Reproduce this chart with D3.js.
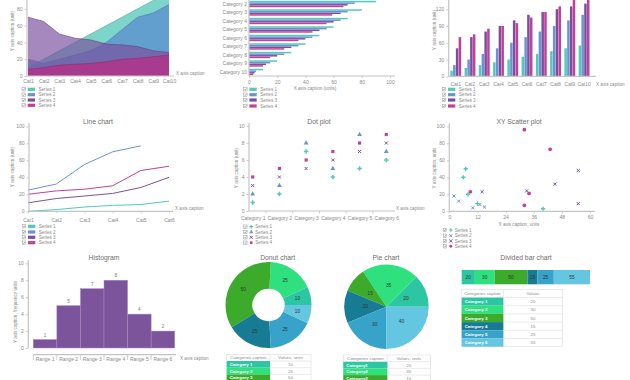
<!DOCTYPE html>
<html>
<head>
<meta charset="utf-8">
<script src="https://cdn.jsdelivr.net/npm/d3@7"></script>
<style>
body { margin: 0; background: #fff; }
svg { display: block; font-family: "Liberation Sans", Arial, sans-serif; }
</style>
</head>
<body>
<svg id="chart" width="630" height="380"></svg>
<script>
// ---- data ----
const seriesNames = ["Series 1", "Series 2", "Series 3", "Series 4"];
const cats10 = ["Cat1", "Cat2", "Cat3", "Cat4", "Cat5", "Cat6", "Cat7", "Cat8", "Cat9", "Cat10"];
const cats6 = ["Cat1", "Cat2", "Cat3", "Cat4", "Cat5", "Cat6"];

// area chart
const areaS1 = [10, 20, 30, 40, 50, 60, 70, 80, 90, 100];
const areaS2 = [20, 15, 20, 25, 30, 40, 55, 70, 75, 85];
const areaS3 = [70, 65, 50, 45, 43, 38, 37, 35, 30, 28];
const areaS4 = [8, 10, 13, 14, 15, 17, 20, 21, 23, 25];

// horizontal bars
const hbarCats = ["Category 1", "Category 2", "Category 3", "Category 4", "Category 5",
  "Category 6", "Category 7", "Category 8", "Category 9", "Category 10"];
const hbarS1 = [100, 90, 80, 70, 60, 50, 40, 30, 20, 10];
const hbarS2 = [85, 75, 70, 65, 55, 45, 35, 25, 15, 5];
const hbarS3 = [80, 70, 65, 60, 50, 40, 30, 20, 12, 4];
const hbarS4 = [75, 67, 59, 55, 45, 35, 25, 15, 10, 3];

// vertical bars
const vbarS1 = [10, 15, 20, 25, 30, 35, 40, 45, 50, 55];
const vbarS2 = [20, 30, 40, 50, 60, 70, 80, 90, 100, 110];
const vbarS3 = [50, 70, 80, 90, 100, 110, 115, 120, 125, 130];
const vbarS4 = [70, 75, 85, 90, 95, 105, 115, 125, 140, 145];

// line chart
const lineS1 = [0, 2, 5, 7, 8, 12];
const lineS2 = [25, 32, 55, 70, 77];
const lineS3 = [10, 15, 18, 21, 28, 40];
const lineS4 = [20, 24, 26, 30, 48, 53];

// dot plot
const dotCats = ["Category 1", "Category 2", "Category 3", "Category 4", "Category 5", "Category 6"];
const dotS1 = [1, 2, 7, 4, 5, 6];
const dotS2 = [2, 3, 8, 5, 9, 7];
const dotS3 = [3, 4, 5, 6, 7, 8];
const dotS4 = [4, 5, 6, 7, 8, 9];

// xy scatter  [x, y]
const scatS1 = [[6, 40], [7, 50], [8, 20], [12, 9], [40, 3]];
const scatS2 = [[2, 18], [4, 12], [10, 4], [13, 8], [15, 5]];
const scatS3 = [[14, 23], [33, 24], [45, 32], [55, 48], [55, 9]];
const scatS4 = [[9, 23], [32, 96], [34, 21], [32, 7], [43, 73]];

// histogram
const histRanges = ["Range 1", "Range 2", "Range 3", "Range 4", "Range 5", "Range 6"];
const histValues = [1, 5, 7, 8, 4, 2];

// donut, pie, divided bar
const donutCats = ["Category 1", "Category 2", "Category 3", "Category 4", "Category 5", "Category 6"];
const donutValues = [10, 25, 50, 25, 25, 10];
const pieCats = ["Category1", "Category2", "Category3", "Category4", "Category5", "Category6"];
const pieValues = [20, 35, 15, 20, 30, 40];
const divCats = ["Category 1", "Category 2", "Category 3", "Category 4", "Category 5", "Category 6"];
const divValues = [20, 30, 50, 15, 25, 55];

const seriesColors = ["#52c9bb", "#6b93d3", "#7b4f9e", "#c2409a"];
const catColors = ["#2cc6a2", "#2fe07f", "#3cab2b", "#177b94", "#38a3c9", "#64c6e1"];

// ---- helpers ----
const svg = d3.select("#chart");
const gray = "#c4c4c4";
const textCol = "#8a8a8a";

function styleAxis(sel) {
  sel.select(".domain").remove();
  sel.selectAll("line").attr("stroke", gray).attr("stroke-width", 0.8);
  sel.selectAll("text").attr("fill", textCol).attr("font-size", 5);
}

function yAxis(scale, x, ticks, top) {
  svg.append("g").attr("transform", `translate(${x},0)`)
    .call(d3.axisLeft(scale).tickValues(ticks).tickSize(2.5).tickPadding(2).tickSizeOuter(0))
    .call(styleAxis);
  const r = scale.range();
  svg.append("line").attr("x1", x).attr("x2", x)
    .attr("y1", top !== undefined ? top : Math.min(r[0], r[1]) - 3).attr("y2", Math.max(r[0], r[1]))
    .attr("stroke", gray).attr("stroke-width", 1.2);
}

function axisLine(x1, x2, y) {
  svg.append("line").attr("x1", x1).attr("x2", x2).attr("y1", y).attr("y2", y)
    .attr("stroke", gray).attr("stroke-width", 1.2);
}

function text(x, y, t, size, anchor, fill) {
  return svg.append("text").attr("x", x).attr("y", y).attr("dy", "0.35em")
    .attr("font-size", size || 5).attr("text-anchor", anchor || "start")
    .attr("fill", fill || textCol).text(t);
}

function title(x, y, t) {
  text(x, y, t, 6.8, "middle", "#6e6e6e");
}

function rotCaption(x, y, t) {
  svg.append("text").attr("transform", `translate(${x},${y}) rotate(-90)`)
    .attr("dy", "0.35em").attr("text-anchor", "middle")
    .attr("font-size", 4.6).attr("fill", textCol).text(t);
}

function checkbox(x, y) {
  svg.append("rect").attr("x", x).attr("y", y - 1.7).attr("width", 3.4).attr("height", 3.4)
    .attr("fill", "#fff").attr("stroke", "#999").attr("stroke-width", 0.5);
  svg.append("path").attr("d", `M${x + 0.7},${y} L${x + 1.5},${y + 0.9} L${x + 2.8},${y - 1}`)
    .attr("fill", "none").attr("stroke", "#666").attr("stroke-width", 0.5);
}

const symbolTypes = [d3.symbolCross, d3.symbolTriangle, d3.symbolX, d3.symbolSquare];

function drawSymbol(type, x, y, color, size) {
  const stroked = type === d3.symbolX;
  svg.append("path")
    .attr("d", d3.symbol(type, size)())
    .attr("transform", `translate(${x},${y})`)
    .attr("fill", stroked ? "none" : color)
    .attr("stroke", stroked ? color : "none")
    .attr("stroke-width", stroked ? 1 : 0);
}

function legend(x, ys, mode, symbols) {
  seriesNames.forEach((name, i) => {
    const y = ys[i];
    checkbox(x, y);
    if (mode === "swatch") {
      svg.append("rect").attr("x", x + 5.7).attr("y", y - 1.6).attr("width", 7.3).attr("height", 3.2)
        .attr("fill", seriesColors[i]);
      text(x + 16.5, y, name, 4.6);
    } else {
      drawSymbol(symbols[i], x + 7.5, y, seriesColors[i], 7);
      text(x + 11.5, y, name, 4.6);
    }
  });
}

function table(x, y, w1, w2, rowH, header, cats, values, nRows) {
  const g = svg.append("g");
  g.append("rect").attr("x", x).attr("y", y).attr("width", w1 + w2).attr("height", rowH * (nRows + 1))
    .attr("fill", "#fff").attr("stroke", "#ddd").attr("stroke-width", 0.6);
  g.append("line").attr("x1", x + w1).attr("x2", x + w1).attr("y1", y).attr("y2", y + rowH * (nRows + 1))
    .attr("stroke", "#ddd").attr("stroke-width", 0.6);
  text(x + w1 / 2, y + rowH / 2, header[0], 4.4, "middle");
  text(x + w1 + w2 / 2, y + rowH / 2, header[1], 4.4, "middle");
  for (let i = 0; i < nRows; i++) {
    const ry = y + rowH * (i + 1);
    g.append("rect").attr("x", x).attr("y", ry).attr("width", w1).attr("height", rowH)
      .attr("fill", catColors[i]);
    g.append("line").attr("x1", x + w1).attr("x2", x + w1 + w2).attr("y1", ry).attr("y2", ry)
      .attr("stroke", "#ddd").attr("stroke-width", 0.6);
    text(x + 3, ry + rowH / 2, cats[i], 4.4, "start", "#fff").attr("font-weight", "bold");
    text(x + w1 + w2 / 2, ry + rowH / 2, values[i], 4.4, "middle");
  }
}

// ---- 1. area chart ----
{
  const x = d3.scalePoint(cats10, [28, 169]);
  const y = d3.scaleLinear([0, 100], [76, -8]);
  const series = [areaS1, areaS2, areaS3, areaS4];
  const fills = ["#5ccbbd", "#5a8ccf", "#7b4f9e", "#b0348a"];
  const opac = [0.8, 0.75, 0.68, 0.88];
  const area = d3.area().x((d, i) => x(cats10[i])).y0(y(0)).y1(d => y(d));
  const line = d3.line().x((d, i) => x(cats10[i])).y(d => y(d));
  series.forEach((s, i) => {
    svg.append("path").attr("d", area(s)).attr("fill", fills[i]).attr("fill-opacity", opac[i]);
    svg.append("path").attr("d", line(s)).attr("fill", "none")
      .attr("stroke", d3.color(fills[i]).darker(0.6)).attr("stroke-width", 0.6);
  });
  yAxis(y, 27, [0, 20, 40, 60, 80], 0);
  axisLine(27, 174, 76);
  svg.append("g").attr("transform", "translate(0,76)")
    .call(d3.axisBottom(x).tickSize(0).tickPadding(3)).call(styleAxis);
  text(176, 73, "X axis caption", 4.6);
  rotCaption(12.7, 31, "Y axis caption (unit)");
  legend(22, [89.3, 94.7, 100, 105.3], "swatch");
}

// ---- 2. horizontal bar chart ----
{
  const y = d3.scaleBand(hbarCats, [-8.75, 76.25]).paddingInner(0.22).paddingOuter(0.11);
  const yi = d3.scaleBand(seriesNames, [0, y.bandwidth()]).padding(0.08);
  const x = d3.scaleLinear([0, 100], [249, 390]);
  const series = [hbarS1, hbarS2, hbarS3, hbarS4];
  series.forEach((s, si) => {
    svg.append("g").selectAll("rect").data(s).join("rect")
      .attr("x", x(0)).attr("y", (d, i) => y(hbarCats[i]) + yi(seriesNames[si]))
      .attr("width", d => x(d) - x(0)).attr("height", yi.bandwidth())
      .attr("fill", seriesColors[si]);
  });
  // Category 1 sits above the visible area, so its label is left out
  svg.append("g").attr("transform", "translate(249,0)")
    .call(d3.axisLeft(y).tickValues(hbarCats.slice(1)).tickSize(0).tickPadding(2)).call(styleAxis);
  svg.append("line").attr("x1", 249).attr("x2", 249).attr("y1", 0).attr("y2", 76)
    .attr("stroke", gray).attr("stroke-width", 1.2);
  axisLine(249, 395, 76);
  svg.append("g").attr("transform", "translate(0,76)")
    .call(d3.axisBottom(x).tickValues([0, 20, 40, 60, 80, 100]).tickSize(2).tickPadding(2))
    .call(styleAxis);
  text(315, 88.3, "X axis caption (units)", 4.6, "middle");
  legend(243.7, [89.3, 94.7, 100, 106], "swatch");
}

// ---- 3. vertical grouped bar chart ----
{
  const x = d3.scaleBand(cats10, [448.6, 591.2]).paddingInner(0.2).paddingOuter(0.1);
  const xi = d3.scaleBand(seriesNames, [0, x.bandwidth()]).padding(0.1);
  const y = d3.scaleLinear([0, 150], [76.3, -7.6]);
  const series = [vbarS1, vbarS2, vbarS3, vbarS4];
  series.forEach((s, si) => {
    svg.append("g").selectAll("rect").data(s).join("rect")
      .attr("x", (d, i) => x(cats10[i]) + xi(seriesNames[si]))
      .attr("y", d => y(d)).attr("width", xi.bandwidth())
      .attr("height", d => y(0) - y(d)).attr("fill", seriesColors[si]);
  });
  yAxis(y, 448.7, [0, 30, 60, 90, 120], 0);
  axisLine(448.7, 595.7, 76.3);
  svg.append("g").attr("transform", "translate(0,76.3)")
    .call(d3.axisBottom(x).tickSize(0).tickPadding(6)).call(styleAxis);
  text(596, 84, "X axis caption", 4.6);
  rotCaption(434.5, 30, "Y axis caption (unit)");
  legend(442.3, [89.3, 94.7, 100, 106], "swatch");
}

// ---- 4. line chart ----
{
  const x = d3.scalePoint(cats6, [28, 169]);
  const y = d3.scaleLinear([0, 100], [211.3, 126.3]);
  const series = [lineS1, lineS2, lineS3, lineS4];
  const line = d3.line().x((d, i) => x(cats6[i])).y(d => y(d));
  series.forEach((s, i) => {
    svg.append("path").attr("d", line(s)).attr("fill", "none")
      .attr("stroke", seriesColors[i]).attr("stroke-width", 1);
  });
  yAxis(y, 29, [0, 20, 40, 60, 80, 100]);
  axisLine(29, 173, 211.3);
  svg.append("g").attr("transform", "translate(0,211.3)")
    .call(d3.axisBottom(x).tickSize(2).tickPadding(5)).call(styleAxis);
  text(175, 208, "X axis caption", 4.6);
  title(98, 121.7, "Line chart");
  rotCaption(12.7, 167, "Y axis caption (unit)");
  legend(22.3, [226.3, 232, 237.3, 242.7], "swatch");
}

// ---- 5. dot plot ----
{
  const x = d3.scalePoint(dotCats, [252.7, 386.3]);
  const y = d3.scaleLinear([0, 10], [211, 126]);
  const series = [dotS1, dotS2, dotS3, dotS4];
  const sizes = [11, 10, 7, 10];
  series.forEach((s, si) => {
    s.forEach((v, i) => drawSymbol(symbolTypes[si], x(dotCats[i]), y(v), seriesColors[si], sizes[si]));
  });
  yAxis(y, 249, [0, 2, 4, 6, 8, 10]);
  axisLine(249, 395, 211);
  svg.append("g").attr("transform", "translate(0,211)")
    .call(d3.axisBottom(x).tickSize(0).tickPadding(5)).call(styleAxis);
  dotCats.slice(1).forEach((c, i) => {
    const mx = (x(dotCats[i]) + x(c)) / 2;
    svg.append("line").attr("x1", mx).attr("x2", mx).attr("y1", 211).attr("y2", 213.5)
      .attr("stroke", gray).attr("stroke-width", 0.8);
  });
  text(396, 208.3, "X axis caption", 4.6);
  title(319, 121.7, "Dot plot");
  rotCaption(236.7, 168, "Y axis caption (unit)");
  legend(243.7, [226.7, 232, 237.3, 242.7], "symbol", symbolTypes);
}

// ---- 6. XY scatter ----
{
  const x = d3.scaleLinear([0, 60], [449.3, 590]);
  const y = d3.scaleLinear([0, 100], [211.3, 126.3]);
  const series = [scatS1, scatS2, scatS3, scatS4];
  const types = [d3.symbolCross, d3.symbolX, d3.symbolX, d3.symbolCircle];
  const sizes = [10, 7, 7, 11];
  series.forEach((s, si) => {
    s.forEach(p => drawSymbol(types[si], x(p[0]), y(p[1]), seriesColors[si], sizes[si]));
  });
  yAxis(y, 449.3, [0, 20, 40, 60, 80, 100]);
  axisLine(449.3, 595, 211.3);
  svg.append("g").attr("transform", "translate(0,211.3)")
    .call(d3.axisBottom(x).tickValues([0, 12, 24, 36, 48, 60]).tickSize(2).tickPadding(2))
    .call(styleAxis);
  text(519, 224.3, "X axis caption, units", 4.6, "middle");
  title(519, 121.7, "XY Scatter plot");
  rotCaption(434.7, 168, "Y axis caption, units");
  legend(443.3, [230, 235.7, 241, 246.3], "symbol", types);
}

// ---- 7. histogram ----
{
  const x = d3.scaleBand(histRanges, [33.3, 174.7]);
  const y = d3.scaleLinear([0, 10], [348, 263.3]);
  svg.append("g").selectAll("rect").data(histValues).join("rect")
    .attr("x", (d, i) => x(histRanges[i])).attr("y", d => y(d))
    .attr("width", x.bandwidth()).attr("height", d => y(0) - y(d))
    .attr("fill", "#7c549c").attr("stroke", "#a58cc0").attr("stroke-width", 0.5);
  svg.append("g").selectAll("text").data(histValues).join("text")
    .attr("x", (d, i) => x(histRanges[i]) + x.bandwidth() / 2).attr("y", d => y(d) - 3)
    .attr("text-anchor", "middle").attr("font-size", 4.6).attr("fill", "#777").text(d => d);
  yAxis(y, 28.3, [0, 2, 4, 6, 8, 10]);
  axisLine(33.3, 176, 354.7);
  svg.append("g").attr("transform", "translate(0,354.7)")
    .call(d3.axisBottom(x).tickSize(0).tickPadding(3)).call(styleAxis);
  histRanges.forEach(r => {
    svg.append("line").attr("x1", x(r)).attr("x2", x(r)).attr("y1", 354.7).attr("y2", 360)
      .attr("stroke", gray).attr("stroke-width", 0.8);
  });
  text(180, 358, "X axis caption", 4.6);
  title(104, 258, "Histogram");
  rotCaption(15, 312, "Y axis caption, frequency units");
}

// ---- 8. donut & 9. pie ----
function drawPie(cx, cy, r0, r1, values) {
  // first slice starts at 3 o'clock and slices run counter-clockwise
  const pie = d3.pie().sort(null).startAngle(Math.PI / 2).endAngle(Math.PI / 2 - 2 * Math.PI);
  const arc = d3.arc().innerRadius(r0).outerRadius(r1);
  const g = svg.append("g").attr("transform", `translate(${cx},${cy})`);
  const arcs = pie(values);
  g.selectAll("path").data(arcs).join("path")
    .attr("d", arc).attr("fill", (d, i) => catColors[i]);
  g.selectAll("text").data(arcs).join("text")
    .attr("transform", d => `translate(${arc.centroid(d)})`)
    .attr("dy", "0.35em").attr("text-anchor", "middle")
    .attr("font-size", 4.8).attr("fill", "#333").text(d => d.data);
}
drawPie(268.5, 305, 16.2, 43, donutValues);
title(277.7, 258, "Donut chart");
table(226.7, 354.3, 43.3, 41, 6.7, ["Categories caption", "Values, units"], donutCats, donutValues, 4);

drawPie(386.5, 306.7, 0, 42.2, pieValues);
title(386, 257.3, "Pie chart");
table(343.3, 355, 44, 43, 6.7, ["Categories caption", "Values, units"], pieCats, pieValues, 4);

// ---- 10. divided bar ----
{
  const total = d3.sum(divValues);
  const x = d3.scaleLinear([0, total], [461.7, 590]);
  const starts = d3.cumsum([0].concat(divValues.slice(0, -1)));
  svg.append("g").selectAll("rect").data(divValues).join("rect")
    .attr("x", (d, i) => x(starts[i])).attr("y", 270)
    .attr("width", d => x(d) - x(0)).attr("height", 14.3)
    .attr("fill", (d, i) => catColors[i]);
  svg.append("g").selectAll("text").data(divValues).join("text")
    .attr("x", (d, i) => x(starts[i] + d / 2)).attr("y", 277.2).attr("dy", "0.35em")
    .attr("text-anchor", "middle").attr("font-size", 4.8).attr("fill", "#333").text(d => d);
  title(526, 258, "Divided bar chart");
  table(461.7, 289.3, 41.6, 59.4, 8.2, ["Categories caption", "Values"], divCats, divValues, 6);
}
</script>
</body>
</html>
